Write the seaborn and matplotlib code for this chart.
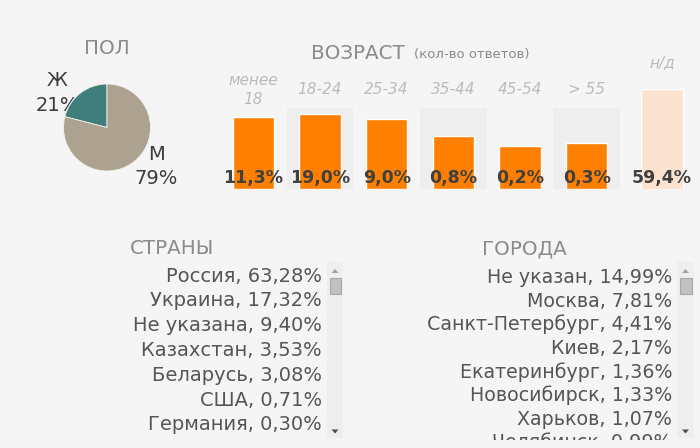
import matplotlib
matplotlib.use("Agg")
import matplotlib.pyplot as plt
from matplotlib.patches import Rectangle, Polygon
import seaborn as sns
import pandas as pd

# ---------------- data ----------------
gender_labels = ["Ж", "М"]
gender_share = [21, 79]

age_groups = ["менее\n18", "18-24", "25-34", "35-44", "45-54", "> 55"]
age_counts = [72, 75, 70, 53, 43, 46]          # bar heights (answers, relative)
age_pct = ["11,3%", "19,0%", "9,0%", "0,8%", "0,2%", "0,3%"]
na_label = "н/д"
na_count = 100
na_pct = "59,4%"

countries = ["Россия", "Украина", "Не указана", "Казахстан", "Беларусь", "США", "Германия"]
country_pct = ["63,28%", "17,32%", "9,40%", "3,53%", "3,08%", "0,71%", "0,30%"]

cities = ["Не указан", "Москва", "Санкт-Петербург", "Киев", "Екатеринбург",
          "Новосибирск", "Харьков", "Челябинск"]
city_pct = ["14,99%", "7,81%", "4,41%", "2,17%", "1,36%", "1,33%", "1,07%", "0,99%"]

# ---------------- style ----------------
BG = "#f5f5f5"
STRIPE = "#eeeeee"
ORANGE = "#ff8000"
PEACH = "#fbe3cf"
TEAL = "#3e7e7b"
BEIGE = "#ada18f"
TITLE_C = "#8a8a8a"
LIST_C = "#555555"
VAL_C = "#404040"
CAT_C = "#bbbbbb"

sns.set_theme(style="white")
plt.rcParams["font.family"] = ["DejaVu Sans"]

W, H = 700, 448
fig = plt.figure(figsize=(W / 100, H / 100), dpi=100, facecolor=BG)

def px_axes(x0, y0, x1, y1):
    return fig.add_axes([x0 / W, 1 - y1 / H, (x1 - x0) / W, (y1 - y0) / H])

# background axes in pixel coordinates
bg = fig.add_axes([0, 0, 1, 1])
bg.set_xlim(0, W)
bg.set_ylim(H, 0)
bg.axis("off")
bg.set_facecolor(BG)

# ---------------- pie ----------------
cx, cy, r = 107, 127.5, 43.5
pax = px_axes(cx - r, cy - r, cx + r, cy + r)
pax.pie(gender_share, colors=[TEAL, BEIGE], startangle=90, counterclock=True,
        wedgeprops=dict(linewidth=0.6, edgecolor="#f0f0f0"))
pax.set_xlim(-1, 1)
pax.set_ylim(-1, 1)
pax.set_aspect("auto")
pax.axis("off")

bg.text(107, 54, "ПОЛ", ha="center", va="baseline", fontsize=14.3, color=TITLE_C)
pie_lab_c = "#3c3c3c"
bg.text(57, 86, gender_labels[0], ha="center", va="baseline", fontsize=14, color=pie_lab_c)
bg.text(57, 111, f"{gender_share[0]}%", ha="center", va="baseline", fontsize=14, color=pie_lab_c)
bg.text(156, 160, gender_labels[1], ha="center", va="baseline", fontsize=14, color=pie_lab_c)
bg.text(156, 184, f"{gender_share[1]}%", ha="center", va="baseline", fontsize=14, color=pie_lab_c)

# ---------------- age bars ----------------
bar_bottom, bar_top = 189, 89
aax = px_axes(220, bar_top, 620, bar_bottom)
aax.patch.set_visible(False)
for i in (1, 3, 5):
    aax.axvspan(i - 0.5, i + 0.5, ymin=0, ymax=0.81, color=STRIPE, zorder=0, lw=0)
df_age = pd.DataFrame({"group": age_groups, "count": age_counts})
sns.barplot(data=df_age, x="group", y="count", ax=aax, color=ORANGE,
            saturation=1, width=0.62, zorder=2)
aax.set_xlim(-0.5, 5.5)
aax.set_ylim(0, 100)
aax.axis("off")

nax = px_axes(628.7, bar_top, 695.3, bar_bottom)
nax.patch.set_visible(False)
df_na = pd.DataFrame({"group": [na_label], "count": [na_count]})
sns.barplot(data=df_na, x="group", y="count", ax=nax, color=PEACH,
            saturation=1, width=0.63, zorder=2)
nax.set_xlim(-0.5, 0.5)
nax.set_ylim(0, 100)
nax.axis("off")

val_y = bar_bottom - 183.3   # baseline of value labels in bar units (1 unit = 1 px)
col_w = 400 / 6
for i, (g, p) in enumerate(zip(age_groups, age_pct)):
    xc = 220 + col_w * (i + 0.5)
    lines = g.split("\n")
    if len(lines) == 2:
        bg.text(xc, 85, lines[0], ha="center", va="baseline", fontsize=11,
                style="italic", color=CAT_C)
        bg.text(xc, 104, lines[1], ha="center", va="baseline", fontsize=11,
                style="italic", color=CAT_C)
    else:
        bg.text(xc, 94, g, ha="center", va="baseline", fontsize=11,
                style="italic", color=CAT_C)
    aax.text(i, val_y, p, ha="center", va="baseline", fontsize=12.5,
             fontweight="bold", color=VAL_C, zorder=10, clip_on=False)
bg.text(662, 67, na_label, ha="center", va="baseline", fontsize=11,
        style="italic", color=CAT_C)
nax.text(0, val_y, na_pct, ha="center", va="baseline", fontsize=12.5,
         fontweight="bold", color=VAL_C, zorder=10, clip_on=False)

bg.text(311, 59, "ВОЗРАСТ", ha="left", va="baseline", fontsize=14.3, color=TITLE_C)
bg.text(414, 58, "(кол-во ответов)", ha="left", va="baseline", fontsize=9.5, color=TITLE_C)

# ---------------- lists ----------------
bg.text(130, 254, "СТРАНЫ", ha="left", va="baseline", fontsize=14.3, color=TITLE_C)
bg.text(482, 254, "ГОРОДА", ha="left", va="baseline", fontsize=14.3, color=TITLE_C)

def scrollbar(x0, x1):
    bg.add_patch(Rectangle((x0, 262), x1 - x0, 176, facecolor="#eeeeee", lw=0, zorder=1))
    xc = (x0 + x1) / 2
    bg.add_patch(Rectangle((x0 + 2.5, 278), x1 - x0 - 5, 16, facecolor="#c1c1c1",
                           edgecolor="#a9a9a9", lw=0.8, zorder=2))
    bg.add_patch(Polygon([(xc - 3.5, 273), (xc + 3.5, 273), (xc, 269)],
                         facecolor="#a3a3a3", lw=0, zorder=2))
    bg.add_patch(Polygon([(xc - 3.5, 429.5), (xc + 3.5, 429.5), (xc, 433.5)],
                         facecolor="#505050", lw=0, zorder=2))

scrollbar(327, 343)
scrollbar(677, 694)

for k, (c, p) in enumerate(zip(countries, country_pct)):
    bg.text(322, 281.7 + 24.8 * k, f"{c}, {p}", ha="right", va="baseline",
            fontsize=14, color=LIST_C)

for k, (c, p) in enumerate(zip(cities, city_pct)):
    bg.text(672, 283.3 + 23.6 * k, f"{c}, {p}", ha="right", va="baseline",
            fontsize=13.7, color=LIST_C)

# the scrolling list box ends here: mask what lies below it
mask = px_axes(0, 440, W, H)
mask.set_facecolor(BG)
mask.set_xticks([])
mask.set_yticks([])
for s in mask.spines.values():
    s.set_visible(False)

fig.savefig("out.png", dpi=100, facecolor=BG)
